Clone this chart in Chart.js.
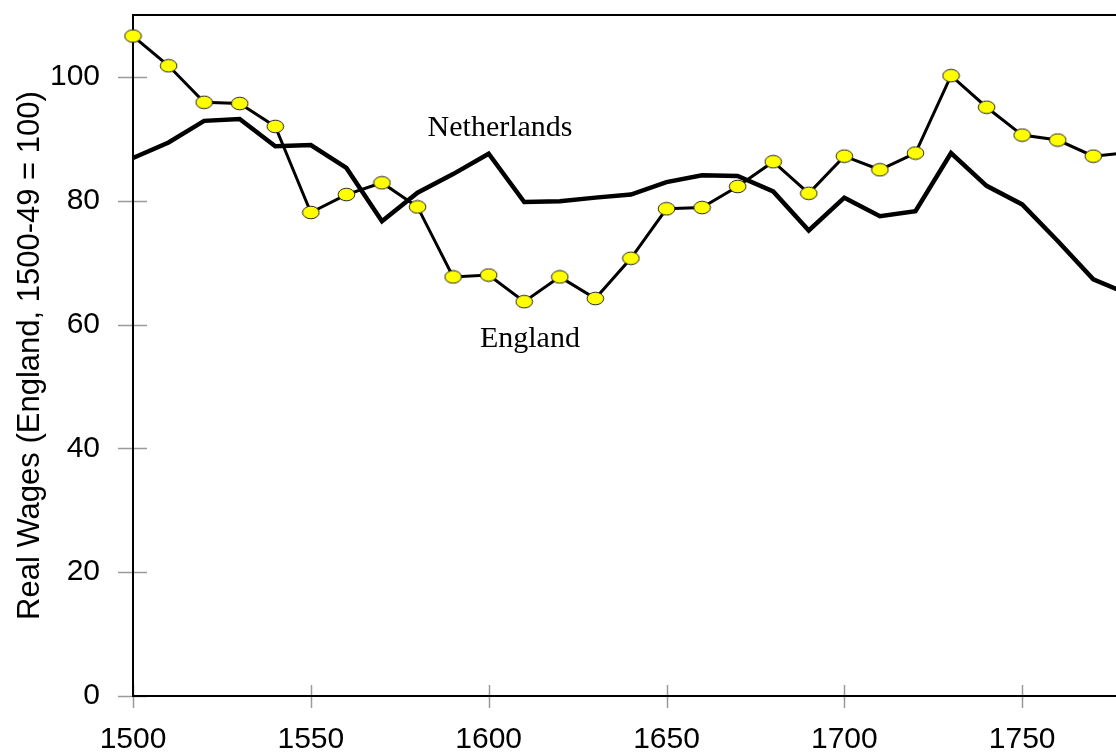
<!DOCTYPE html>
<html><head><meta charset="utf-8">
<script src="https://cdn.jsdelivr.net/npm/chart.js@4.4.1/dist/chart.umd.min.js"></script>
<style>html,body{margin:0;padding:0;overflow:hidden;background:#fff;width:1116px;height:756px}canvas{display:block}</style>
</head><body>
<canvas id="c" width="1240" height="756"></canvas>
<script>
const years = [1500,1510,1520,1530,1540,1550,1560,1570,1580,1590,1600,1610,1620,1630,1640,1650,1660,1670,1680,1690,1700,1710,1720,1730,1740,1750,1760,1770,1780];
const england = [106.6,101.8,95.9,95.7,92.0,78.1,81.0,82.9,79.0,67.7,68.0,63.7,67.7,64.2,70.7,78.7,78.9,82.3,86.3,81.2,87.2,85.0,87.7,100.2,95.1,90.6,89.8,87.2,87.8];
const netherlands = [86.9,89.4,92.9,93.2,88.8,89.0,85.3,76.7,81.3,84.3,87.6,79.8,79.9,80.5,81.0,83.0,84.1,84.0,81.5,75.2,80.5,77.5,78.3,87.7,82.4,79.4,73.5,67.3,64.9];
const seriesNames = ['England','Netherlands'];
const noteTexts = ['Netherlands','England'];
const noteYears = [1603.2,1611.6];
const noteValues = [91.7,57.7];
const yTitle = 'Real Wages (England, 1500-49 = 100)';
const xMin = 1500, xMax = 1800, xStep = 50;
const yMin = 0, yMax = 110, yStep = 20;

// marker image
const mk = document.createElement('canvas');
mk.width = 19; mk.height = 15;
(function(){
  const c = mk.getContext('2d');
  c.beginPath(); c.ellipse(9.5,7.5,8.3,6.3,0,0,Math.PI*2);
  c.fillStyle = '#ffff00'; c.fill();
  c.lineWidth = 1; c.strokeStyle = '#222'; c.stroke();
})();

const decor = {
  id: 'decor',
  beforeDraw(chart){
    const {ctx, chartArea:a, scales:{x, y}} = chart;
    ctx.save();
    ctx.strokeStyle = '#9a9a9a'; ctx.lineWidth = 1.5;
    y.ticks.forEach(t => {
      const p = Math.round(y.getPixelForValue(t.value)) + 0.5;
      ctx.beginPath(); ctx.moveTo(a.left - 15, p); ctx.lineTo(a.left + 14, p); ctx.stroke();
    });
    x.ticks.forEach(t => {
      const p = Math.round(x.getPixelForValue(t.value)) + 0.5;
      ctx.beginPath(); ctx.moveTo(p, a.bottom - 11); ctx.lineTo(p, a.bottom + 12); ctx.stroke();
    });
    ctx.restore();
  },
  beforeDatasetsDraw(chart){
    const {ctx, chartArea:a} = chart;
    ctx.save();
    ctx.strokeStyle = '#000'; ctx.lineWidth = 2;
    ctx.beginPath(); ctx.moveTo(a.left - 1, a.top); ctx.lineTo(a.right, a.top); ctx.stroke();
    ctx.restore();
  },
  afterDatasetsDraw(chart){
    const {ctx, scales:{x, y}} = chart;
    ctx.save();
    ctx.fillStyle = '#000';
    ctx.font = '30px "Liberation Serif", "Times New Roman", serif';
    ctx.textAlign = 'center'; ctx.textBaseline = 'middle';
    noteTexts.forEach((t, i) => {
      ctx.fillText(t, x.getPixelForValue(noteYears[i]), y.getPixelForValue(noteValues[i]));
    });
    ctx.restore();
  }
};

Chart.defaults.font.family = '"Liberation Sans", Arial, sans-serif';
Chart.defaults.color = '#000';

function zeroPad(s){ s.paddingLeft = 0; s.paddingRight = 0; s.paddingTop = 0; s.paddingBottom = 0; }

new Chart(document.getElementById('c'), {
  type: 'line',
  data: {
    datasets: [
      {
        label: seriesNames[0],
        data: years.map((yr, i) => ({x: yr, y: england[i]})),
        borderColor: '#000', borderWidth: 3,
        pointStyle: mk, pointRadius: 8,
        clip: false, tension: 0
      },
      {
        label: seriesNames[1],
        data: years.map((yr, i) => ({x: yr, y: netherlands[i]})),
        borderColor: '#000', borderWidth: 4.5,
        pointRadius: 0, clip: false, tension: 0
      }
    ]
  },
  options: {
    responsive: false, animation: false, events: [],
    layout: {padding: {top: 15, right: 40, bottom: 0, left: 0}},
    plugins: {legend: {display: false}, tooltip: {enabled: false}},
    scales: {
      x: {
        type: 'linear', min: xMin, max: xMax,
        grid: {display: false, drawTicks: false},
        border: {display: true, color: '#000', width: 2},
        ticks: {stepSize: xStep, padding: 26, font: {size: 30}, color: '#000', maxRotation: 0, callback: v => String(v)},
        afterFit: s => { s.height = 60; zeroPad(s); }
      },
      y: {
        min: yMin, max: yMax,
        grid: {display: false, drawTicks: false},
        border: {display: true, color: '#000', width: 2},
        ticks: {stepSize: yStep, includeBounds: false, padding: 33, font: {size: 30}, color: '#000', callback: v => String(v)},
        title: {display: true, text: yTitle, font: {size: 31}, color: '#000', padding: {top: 12, bottom: 0}},
        afterFit: s => { s.width = 133; zeroPad(s); }
      }
    }
  },
  plugins: [decor]
});
</script>
</body></html>
